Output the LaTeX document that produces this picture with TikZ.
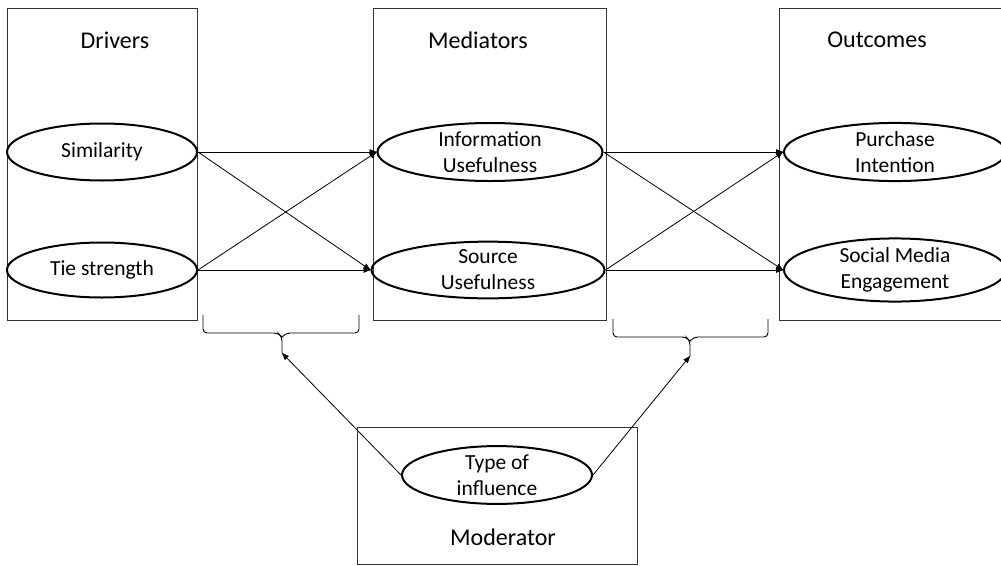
\documentclass[tikz,border=0pt]{standalone}
\usepackage{fontspec}
\setmainfont{Carlito}
\usetikzlibrary{shapes.geometric,arrows.meta,calc}

\tikzset{
 panel/.style={draw=black!80,line width=0.9pt},
 oval/.style={ellipse,draw,line width=2pt,inner sep=0pt,align=center,font=\fontsize{21.5}{26}\selectfont},
 head/.style={font=\fontsize{24}{28}\selectfont},
 link/.style={-{Latex[length=8pt,width=6pt]},line width=0.8pt,shorten >=-1pt},
 brace/.style={line width=0.9pt,rounded corners=4pt}
}

\begin{document}
\begin{tikzpicture}[x=1pt,y=-1pt]
 \useasboundingbox (0,0) rectangle (1001,565);
 % panels
 \draw[panel] (7,8) rectangle (197,320);
 \draw[panel] (373,8) rectangle (606,320);
 \draw[panel] (779,8) rectangle (1003,320);
 \draw[panel] (357,427) rectangle (637,564);
 \node[head] (drv) at (115,40) {Drivers};
 \node[head] (med) at (478,40) {Mediators};
 \node[head] (out) at (877,40) {Outcomes};
 \node[head] (mod) at (503,537) {Moderator};
 % constructs
 \node[oval,minimum width=190pt,minimum height=57pt] (sim) at (102,152) {Similarity};
 \node[oval,minimum width=190pt,minimum height=55pt] (tie) at (102,270) {Tie strength};
 \node[oval,minimum width=225pt,minimum height=57pt] (info) at (490,152) {Information\\Usefulness};
 \node[oval,minimum width=233pt,minimum height=55pt] (src) at (488,270) {Source\\Usefulness};
 \node[oval,minimum width=222pt,minimum height=57pt] (pur) at (895,152) {Purchase\\Intention};
 \node[oval,minimum width=222pt,minimum height=55pt] (smi) at (895,270) {Social Media\\Engagement};
 \node[oval,minimum width=190pt,minimum height=57pt] (type) at (497,475) {Type of\\influence};
 % paths
 \foreach \a in {sim,tie} \foreach \b in {info,src} \draw[link] (\a.east) -- (\b.west);
 \foreach \a in {info,src} \foreach \b in {pur,smi} \draw[link] (\a.east) -- (\b.west);
 % braces
 \coordinate (tipL) at (282,353);
 \coordinate (tipR) at (690,356);
 \draw[brace] (203,315) -- (203,333) -- (278,333) -- (282,337) -- (tipL) (282,337) -- (286,333) -- (359,333) -- (359,315);
 \draw[brace] (613,319) -- (613,337) -- (686,337) -- (690,341) -- (tipR) (690,341) -- (694,337) -- (768,337) -- (768,319);
 \draw[link] (type.west) -- (tipL);
 \draw[link] (type.east) -- (tipR);
\end{tikzpicture}
\end{document}
